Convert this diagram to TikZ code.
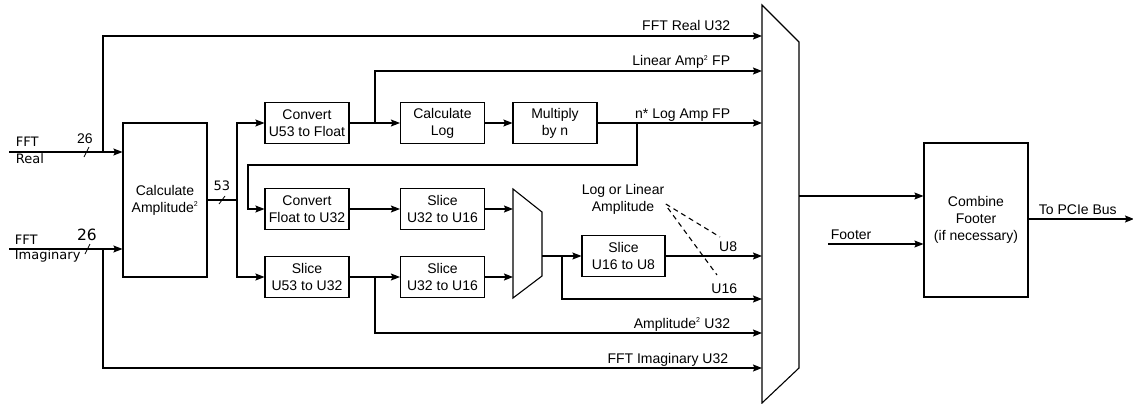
\documentclass[tikz,border=0pt]{standalone}
\usepackage{fontspec}
\setmainfont{Liberation Sans}
\newfontfamily\dvsans{DejaVu Sans}
\usetikzlibrary{arrows.meta,positioning,calc}

\tikzset{
  block/.style={draw, align=center, minimum width=84, minimum height=41, inner sep=1pt},
  sig/.style={anchor=base east},
  inlbl/.style={font=\dvsans\fontsize{13}{15}\selectfont},
  bitw/.style={line width=0.8pt},
}

\begin{document}
\begin{tikzpicture}[x=1pt, y=-1pt, line width=1.1pt, >={Stealth[length=9pt,width=7pt,inset=1.5pt]},
    font=\fontsize{14}{17}\selectfont]
    \useasboundingbox (0,0) rectangle (1133,404);

    % Blocks
    \node[block, minimum height=154] (amp) at (165,200) {Calculate\\Amplitude\textsuperscript{\scriptsize 2}};
    \node[block] (conv53) at (307,123) {Convert\\U53 to Float};
    \node[block] (convfl) at (307,209) {Convert\\Float to U32};
    \node[block] (slice53) at (307,277) {Slice\\U53 to U32};
    \node[block] (calclog) at (442.5,123) {Calculate\\Log};
    \node[block] (mult) at (555,123) {Multiply\\by n};
    \node[block] (sliceA) at (442.5,209) {Slice\\U32 to U16};
    \node[block] (sliceB) at (442.5,277) {Slice\\U32 to U16};
    \node[block, minimum width=83] (slice8) at (623.5,256) {Slice\\U16 to U8};
    \node[block, minimum width=104, minimum height=154] (combine) at (976,220) {Combine\\Footer\\(if necessary)};

    % Multiplexers
    \draw (513,189) -- (542,212) -- (542,276) -- (513,298) -- cycle;
    \draw (762,5) -- (799,42) -- (799,368) -- (762,403) -- cycle;

    % Mux inputs and taps
    \coordinate (mR) at (762,36);
    \coordinate (mLin) at (762,71);
    \coordinate (mLog) at (762,123);
    \coordinate (mU8) at (762,256);
    \coordinate (mU16) at (762,299);
    \coordinate (mAmp) at (762,333);
    \coordinate (mIm) at (762,368);
    \coordinate (sA) at (513,209);
    \coordinate (sB) at (513,277);
    \coordinate (sOut) at (542,256);
    \coordinate (bOut) at (799,196);

    \coordinate (realin) at (9,152);
    \coordinate (imagin) at (9,249);
    \coordinate (tapR) at (103,152);
    \coordinate (tapI) at (103,249);
    \coordinate (bus) at (237,200);
    \coordinate (tapLin) at (375,123);
    \coordinate (tapLog) at (637,123);
    \coordinate (fbk) at (248,165);
    \coordinate (tapAmp) at (375,277);
    \coordinate (tap16) at (562,256);
    \coordinate (foot) at (828,244);
    \coordinate (pcie) at (1134,219);

    % Inputs
    \draw[->] (realin) -- (realin -| amp.west);
    \draw[->] (imagin) -- (imagin -| amp.west);
    \draw[bitw] (84,157) -- (89,147);
    \draw[bitw] (85,254) -- (90,244);
    \node[inlbl, anchor=base west] (lblFR) at (12,146) {FFT};
    \node[inlbl, anchor=base west] (lblRe) at (12,163) {Real};
    \node[inlbl, anchor=base west] (lblFI) at (11,244) {FFT};
    \node[inlbl, anchor=base west] (lblIm) at (11,259) {Imaginary};
    \node[anchor=base] (w26a) at (85,143) {26};
    \node[anchor=base, font=\dvsans\fontsize{15.5}{18}\selectfont] (w26b) at (87,240) {26};

    % Bypass paths
    \draw[->] (tapR) |- (mR);
    \draw[->] (tapI) |- (mIm);

    % Amplitude bus
    \draw (amp.east) -- (bus);
    \draw[bitw] (219,204) -- (225,196);
    \node[inlbl, anchor=base] (w53) at (222,190) {53};
    \draw[->] (bus) |- (conv53.west);
    \draw[->] (bus) |- (slice53.west);

    % Log path
    \draw[->] (conv53) -- (calclog);
    \draw[->] (calclog) -- (mult);
    \draw[->] (mult.east) -- (mLog);
    \draw[->] (tapLin) |- (mLin);
    \draw[->] (tapLog) |- (fbk) |- (convfl.west);

    % Slice path
    \draw[->] (convfl) -- (sliceA);
    \draw[->] (slice53) -- (sliceB);
    \draw[->] (tapAmp) |- (mAmp);
    \draw[->] (sliceA.east) -- (sA);
    \draw[->] (sliceB.east) -- (sB);
    \draw[->] (sOut) -- (slice8.west);
    \draw[->] (tap16) |- (mU16);
    \draw[->] (slice8.east) -- (mU8);

    % Output side
    \draw[->] (bOut) -- (bOut -| combine.west);
    \draw[->] (foot) -- (foot -| combine.west);
    \draw[->] (combine.east |- pcie) -- (pcie);
    \node[anchor=base west] (lblFoot) at (827,239) {Footer};
    \node[anchor=base west] (lblBus) at (1035,214) {To PCIe Bus};

    % Signal labels
    \node[sig] (lblR) at (734,31) {FFT Real U32};
    \node[sig] (lblLin) at (734,66) {Linear Amp\textsuperscript{\scriptsize 2} FP};
    \node[sig] (lblLog) at (734,118) {n* Log Amp FP};
    \node[sig] (lblU8) at (741,251) {U8};
    \node[sig] (lblU16) at (741,293) {U16};
    \node[sig] (lblAmp) at (734,328) {Amplitude\textsuperscript{\scriptsize 2} U32};
    \node[sig] (lblIm) at (732,363) {FFT Imaginary U32};

    % Selection note
    \node[align=center, inner sep=1pt] (selnote) at (623,199) {Log or Linear\\Amplitude};
    \coordinate (d8) at (720,237);
    \coordinate (d16) at (717,275);
    \draw[dashed, dash pattern=on 5pt off 4pt] ($(selnote.east)+(0,5)$) -- (d8);
    \draw[dashed, dash pattern=on 5pt off 4pt] ($(selnote.east)+(2,9)$) -- (d16);
\end{tikzpicture}
\end{document}
